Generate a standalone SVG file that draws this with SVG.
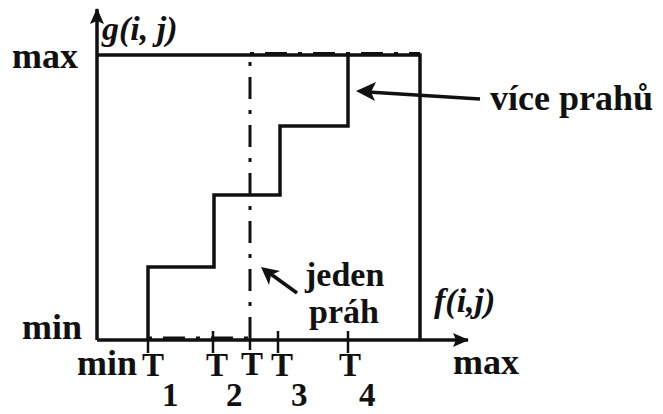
<svg xmlns="http://www.w3.org/2000/svg" width="663" height="414" viewBox="0 0 663 414">
<style>
.ln{fill:none;stroke:#111;stroke-width:3.5;stroke-linejoin:miter;stroke-linecap:butt}
.tk{fill:none;stroke:#111;stroke-width:2.5}
.dd{fill:none;stroke:#111;stroke-width:3;stroke-dasharray:4 11 22 11}
.t{font-weight:bold;fill:#111;font-size:36px}
.i{font-style:italic;font-size:34px}
.s{font-size:33px}
.j{font-size:34px}
</style>
<defs>
<marker id="ax" markerWidth="16" markerHeight="14" refX="15" refY="7" orient="auto" markerUnits="userSpaceOnUse" viewBox="0 0 16 14">
<path d="M0,0 L16,7 L0,14 L3,7 Z" fill="#111"/>
</marker>
</defs>
<g id="axes">
<line class="ln" x1="97" y1="340" x2="97" y2="9" marker-end="url(#ax)"/>
<line class="ln" x1="97" y1="340" x2="468" y2="340" marker-end="url(#ax)"/>
</g>
<g id="box">
<polyline class="ln" points="97,55 420,55 420,340"/>
</g>
<g id="ticks">
<line class="tk" x1="148" y1="340" x2="148" y2="353"/>
<line class="tk" x1="213" y1="331" x2="213" y2="353"/>
<line class="tk" x1="250" y1="340" x2="250" y2="350"/>
<line class="tk" x1="278" y1="331" x2="278" y2="353"/>
<line class="tk" x1="348" y1="331" x2="348" y2="353"/>
</g>
<g id="single-threshold">
<line class="dd" x1="250" y1="62" x2="250" y2="340"/>
<line class="dd" x1="148" y1="338" x2="250" y2="338"/>
<line class="dd" x1="250" y1="53.5" x2="420" y2="53.5"/>
</g>
<g id="multi-threshold">
<polyline class="ln" points="148,340 148,267 214,267 214,195 280,195 280,126 348,126 348,55"/>
</g>
<g id="connectors">
<line x1="480" y1="99" x2="368" y2="92" stroke="#111" stroke-width="3.5"/>
<path d="M356,91 L376,82 L371,92 L375,101 Z" fill="#111"/>
<line x1="297" y1="293" x2="268" y2="272" stroke="#111" stroke-width="3.5"/>
<path d="M261,267 L280,271 L271,275 L269,285 Z" fill="#111"/>
</g>
<g id="labels" font-family="'Liberation Serif', 'Times New Roman', 'DejaVu Serif', serif">
<text class="t" x="12" y="68">max</text>
<text class="t" x="22" y="339">min</text>
<text class="t i" x="102" y="40">g(i, j)</text>
<text class="t i" x="434" y="312">f(i,j)</text>
<text class="t" x="77" y="375">min</text>
<text class="t" x="453" y="374">max</text>
<text class="t" x="490" y="110">více prahů</text>
<text class="t j" x="305" y="286">jeden</text>
<text class="t j" x="309" y="323">práh</text>
<text class="t s" x="142" y="376">T<tspan dx="-2" dy="30">1</tspan></text>
<text class="t s" x="206" y="376">T<tspan dx="-2" dy="30">2</tspan></text>
<text class="t s" x="241" y="375">T</text>
<text class="t s" x="271" y="376">T<tspan dx="-2" dy="30">3</tspan></text>
<text class="t s" x="339" y="376">T<tspan dx="-2" dy="30">4</tspan></text>
</g>
</svg>
